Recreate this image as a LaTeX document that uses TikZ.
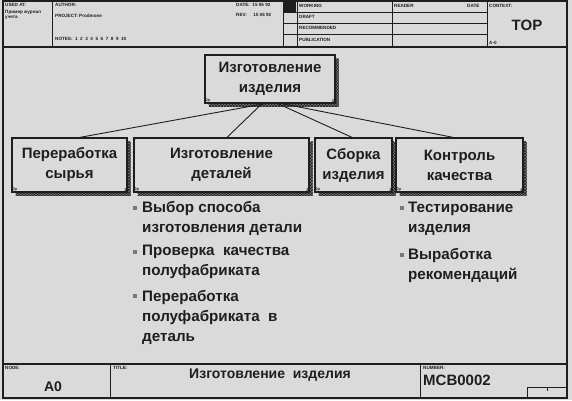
\documentclass[tikz,border=0pt]{standalone}
\usepackage{fontspec}
\setmainfont{Liberation Sans}
\usetikzlibrary{patterns}
\definecolor{bg}{RGB}{218,218,218}
\definecolor{ink}{RGB}{30,30,30}
\definecolor{shade}{RGB}{120,120,120}
\begin{document}
\begin{tikzpicture}[x=1pt,y=-1pt,
  frame/.style={draw=ink, line width=1.1pt},
  thin/.style={draw=ink, line width=0.7pt},
  hdr/.style={font=\fontsize{4.6}{5}\selectfont\bfseries, text=ink, inner sep=0pt, anchor=north west},
  actbox/.style={draw=ink, line width=1.3pt, fill=bg, align=center, text=ink,
    font=\fontsize{15}{20}\selectfont\bfseries, inner sep=0pt,
    preaction={fill=shade, transform canvas={shift={(3.5pt,-3.5pt)}}},
    preaction={pattern=crosshatch, pattern color=ink, transform canvas={shift={(3.5pt,-3.5pt)}}}},
  conn/.style={draw=ink, line width=0.9pt},
  tag/.style={font=\fontsize{4}{4}\selectfont\bfseries, text=ink, inner sep=0.8pt},
  item/.style={font=\fontsize{15.2}{20}\selectfont\bfseries, text=ink, align=left, anchor=west, inner sep=0pt},
  bul/.style={fill=shade, minimum size=4pt, inner sep=0pt},
  big/.style={font=\fontsize{14}{16}\selectfont\bfseries, text=ink, inner sep=0pt}
]
\fill[bg] (0,0) rectangle (572,400);
\useasboundingbox (0,0) rectangle (572,400);

% outer frame
\draw[frame] (3,1) rectangle (567,398);
% header
\draw[frame] (3,47) -- (567,47);
\draw[thin] (52,1) -- (52,47);
\draw[thin] (283,1) -- (283,47);
\draw[thin] (297,1) -- (297,47);
\draw[thin] (392,1) -- (392,47);
\draw[thin] (487,1) -- (487,47);
\foreach \yy in {12,23,34} \draw[thin] (283,\yy) -- (487,\yy);
\fill[ink] (284,1) rectangle (296,12);

\node[hdr] (usedat) at (5,3) {USED AT:};
\node[hdr] (usedat2) at (5,10) {Пример журнал};
\node[hdr] (usedat3) at (5,16) {учета};
\node[hdr] (author) at (55,3) {AUTHOR:};
\node[hdr] (project) at (55,14) {PROJECT: Prodmone};
\node[hdr] (notes) at (55,37) {NOTES:\ \ 1\ \ 2\ \ 3\ \ 4\ \ 5\ \ 6\ \ 7\ \ 8\ \ 9\ \ 10};
\node[hdr] (date) at (236,3) {DATE:\ \ 15 06 92};
\node[hdr] (rev) at (236,13) {REV:\ \ \ \ \ 15 06 92};
\node[hdr] (working) at (299,4) {WORKING};
\node[hdr] (draft) at (299,15) {DRAFT};
\node[hdr] (recom) at (299,26) {RECOMMENDED};
\node[hdr] (publ) at (299,38) {PUBLICATION};
\node[hdr] (reader) at (394,4) {READER};
\node[hdr] (rdate) at (467,4) {DATE};
\node[hdr] (context) at (489,4) {CONTEXT:};
\node[big, font=\fontsize{15}{16}\selectfont\bfseries] (topl) at (527,25) {TOP};
\node[hdr] (azero) at (489,41) {A-0};

% title block
\draw[frame] (3,364) -- (567,364);
\draw[thin] (110,364) -- (110,398);
\draw[thin] (420,364) -- (420,398);
\draw[thin] (527,398) -- (527,387) -- (567,387);
\draw[thin] (547,387) -- (547,391);
\node[hdr] (nodel) at (5,366) {NODE:};
\node[hdr] (titlel) at (113,366) {TITLE:};
\node[hdr] (numl) at (423,366) {NUMBER:};
\node[big] (nodev) at (53,387) {A0};
\node[big] (titlev) at (270,375) {Изготовление\ \ изделия};
\node[big, anchor=west, font=\fontsize{15}{16}\selectfont\bfseries] (numv) at (423,380) {MCB0002};

% activity boxes
\node[actbox, minimum width=130pt, minimum height=48pt] (top) at (270,79) {Изготовление\\изделия};
\node[actbox, minimum width=115pt, minimum height=54pt] (b1) at (69.5,165) {Переработка\\сырья};
\node[actbox, minimum width=175pt, minimum height=54pt] (b2) at (221.5,165) {Изготовление\\деталей};
\node[actbox, minimum width=77pt, minimum height=54pt] (b3) at (353.5,165) {Сборка\\изделия};
\node[actbox, minimum width=127pt, minimum height=54pt] (b4) at (459.5,165) {Контроль\\качества};

\foreach \b/\n in {top/0,b1/1,b2/2,b3/3,b4/4}{
  \node[tag, anchor=south west] at (\b.south west) {0p};
  \node[tag, anchor=south east] at (\b.south east) {\n};
}
\foreach \b in {b1,b2,b3,b4}{
  \fill[ink] (\b.north west) -- ++(4,0) -- ++(-4,4) -- cycle;
}

% connectors
\draw[conn] ([xshift=-5pt]top.south) -- ([xshift=10.5pt]b1.north);
\draw[conn] ([xshift=-8pt]top.south) -- ([xshift=5.5pt]b2.north);
\draw[conn] ([xshift=8pt]top.south) -- ([xshift=-1.5pt]b3.north);
\draw[conn] ([xshift=12pt]top.south) -- ([xshift=-6.5pt]b4.north);

% bullet lists
\node[item] (i1) at (142,218) {Выбор способа\\изготовления детали};
\node[item] (i2) at (142,262) {Проверка\ \ качества\\полуфабриката};
\node[item] (i3) at (142,317) {Переработка\\полуфабриката\ \ в\\деталь};
\node[bul] (p1) at (135,208) {};
\node[bul] (p2) at (135,252) {};
\node[bul] (p3) at (135,296) {};
\node[item] (j1) at (408,219) {Тестирование\\изделия};
\node[item] (j2) at (408,265) {Выработка\\рекомендаций};
\node[bul] (q1) at (402,208) {};
\node[bul] (q2) at (402,255) {};
\end{tikzpicture}
\end{document}
